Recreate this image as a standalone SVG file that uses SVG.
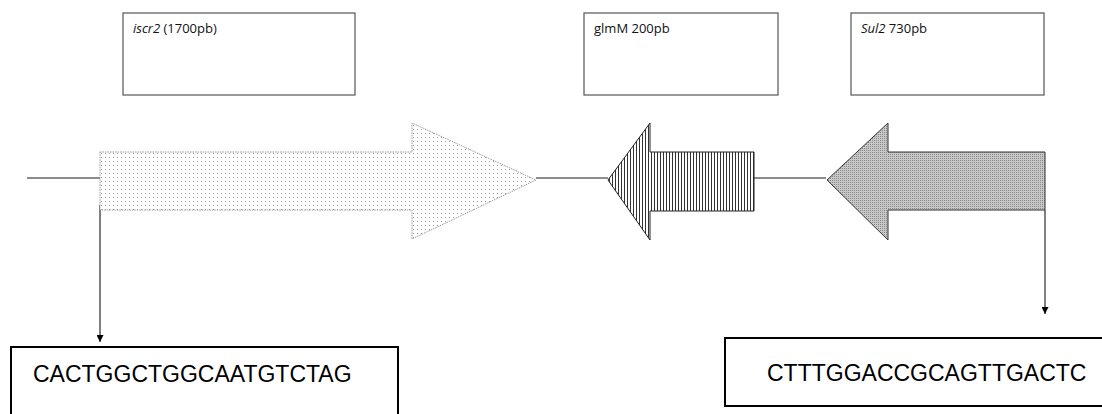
<svg xmlns="http://www.w3.org/2000/svg" width="1102" height="414" viewBox="0 0 1102 414">
  <style>
    .label { fill: none; stroke: #555; stroke-width: 1.2; }
    .seqbox { fill: #fff; stroke: #000; stroke-width: 2; }
    .cap { font-family: "Open Sans", "Liberation Sans", sans-serif; font-size: 13px; fill: #111; }
    .seq { font-family: "Liberation Sans", Arial, sans-serif; font-size: 23px; fill: #000; }
    .line { stroke: #666; stroke-width: 1.5; fill: none; }
    .pointer { stroke: #000; stroke-width: 1; fill: none; }
  </style>
  <defs>
    <pattern id="dots" width="4" height="4" patternUnits="userSpaceOnUse">
      <rect width="4" height="4" fill="#fff"/>
      <rect x="1" y="1" width="1" height="1" fill="#999"/>
    </pattern>
    <pattern id="vstripes" width="3" height="3" patternUnits="userSpaceOnUse">
      <rect width="3" height="3" fill="#fff"/>
      <rect x="0" y="0" width="1" height="3" fill="#333"/>
    </pattern>
    <pattern id="densedots" width="2" height="2" patternUnits="userSpaceOnUse">
      <rect width="2" height="2" fill="#c8c8c8"/>
      <rect x="0" y="0" width="1" height="1" fill="#8a8a8a"/>
    </pattern>
    <marker id="tip" viewBox="0 0 10 10" refX="10" refY="5" markerWidth="7" markerHeight="7" orient="auto" markerUnits="userSpaceOnUse">
      <path d="M0,0 L10,5 L0,10 Z" fill="#000"/>
    </marker>
  </defs>

  <!-- gene name boxes -->
  <g id="label-iscr2">
    <rect class="label" x="123" y="13" width="232" height="82"/>
    <text class="cap" x="133" y="33"><tspan font-style="italic">iscr2</tspan> (1700pb)</text>
  </g>
  <g id="label-glmM">
    <rect class="label" x="584" y="13" width="194" height="82"/>
    <text class="cap" x="594" y="33">glmM 200pb</text>
  </g>
  <g id="label-sul2">
    <rect class="label" x="851" y="13" width="193" height="82"/>
    <text class="cap" x="861" y="33"><tspan font-style="italic">Sul2</tspan> 730pb</text>
  </g>

  <!-- backbone and pointers -->
  <g id="connectors">
    <line class="line" x1="27" y1="178" x2="100" y2="178"/>
    <line class="line" x1="536" y1="178" x2="608" y2="178"/>
    <line class="line" x1="754" y1="178" x2="826" y2="178"/>
    <line class="pointer" x1="100" y1="205" x2="100" y2="342" marker-end="url(#tip)"/>
    <line class="pointer" x1="1045" y1="210" x2="1045" y2="314" marker-end="url(#tip)"/>
  </g>

  <!-- genes -->
  <g id="gene-iscr2">
    <path d="M100,152 L412,152 L412,123 L536,180 L412,239 L412,210 L100,210 Z" fill="url(#dots)" stroke="#999" stroke-width="1" stroke-dasharray="1.5,1"/>
  </g>
  <g id="gene-glmM">
    <path d="M754,152 L650,152 L650,123 L608,180 L650,240 L650,211 L754,211 Z" fill="url(#vstripes)" stroke="#222" stroke-width="1"/>
  </g>
  <g id="gene-sul2">
    <path d="M1045,152 L888,152 L888,123 L827,180 L888,240 L888,210 L1045,210 Z" fill="url(#densedots)" stroke="#333" stroke-width="1"/>
  </g>

  <!-- flanking sequences -->
  <g id="seq-left">
    <rect class="seqbox" x="11" y="347" width="387" height="70"/>
    <text class="seq" x="33" y="382">CACTGGCTGGCAATGTCTAG</text>
  </g>
  <g id="seq-right">
    <rect class="seqbox" x="725" y="338" width="390" height="68"/>
    <text class="seq" x="767" y="381">CTTTGGACCGCAGTTGACTC</text>
  </g>
</svg>
